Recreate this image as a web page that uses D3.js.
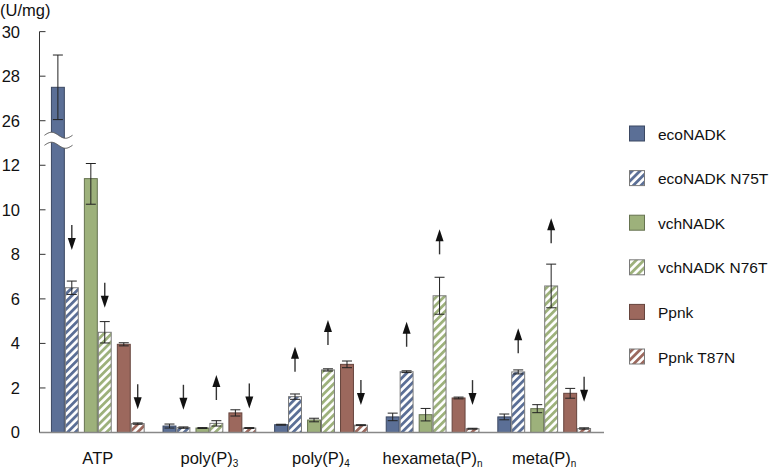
<!DOCTYPE html>
<html>
<head>
<meta charset="utf-8">
<script src="https://cdn.jsdelivr.net/npm/d3@7"></script>
<style>
  html, body { margin: 0; padding: 0; background: #fff; }
  svg { display: block; font-family: "Liberation Sans", Arial, sans-serif; }
</style>
</head>
<body>
<svg id="chart" width="776" height="470"></svg>
<script>
// ---- data ----
const groups = ["ATP", "poly(P)3", "poly(P)4", "hexameta(P)n", "meta(P)n"];
const groupBase = ["ATP", "poly(P)", "poly(P)", "hexameta(P)", "meta(P)"];
const groupSub = ["", "3", "4", "n", "n"];
const series = ["ecoNADK", "ecoNADK N75T", "vchNADK", "vchNADK N76T", "Ppnk", "Ppnk T87N"];
const seriesColor = ["#5b6f96", "#5b6f96", "#9db17b", "#9db17b", "#9c685d", "#9c685d"];
const seriesHatched = [false, true, false, true, false, true];
// values per group (ATP, poly(P)3, poly(P)4, hexameta(P)n, meta(P)n)
const ecoNADK      = [27.5, 0.29, 0.35, 0.70, 0.70];
const ecoNADK_N75T = [6.5, 0.22, 1.61, 2.73, 2.72];
const vchNADK      = [11.4, 0.20, 0.56, 0.80, 1.07];
const vchNADK_N76T = [4.5, 0.41, 2.81, 6.14, 6.58];
const Ppnk         = [3.96, 0.88, 3.06, 1.55, 1.76];
const Ppnk_T87N    = [0.40, 0.20, 0.33, 0.17, 0.18];
// standard errors
const ecoNADK_err      = [1.45, 0.09, 0.02, 0.17, 0.13];
const ecoNADK_N75T_err = [0.30, 0.03, 0.12, 0.04, 0.09];
const vchNADK_err      = [1.15, 0.02, 0.08, 0.28, 0.18];
const vchNADK_N76T_err = [0.48, 0.12, 0.05, 0.83, 0.98];
const Ppnk_err         = [0.07, 0.14, 0.15, 0.04, 0.22];
const Ppnk_T87N_err    = [0.03, 0.02, 0.02, 0.02, 0.03];
const values = [ecoNADK, ecoNADK_N75T, vchNADK, vchNADK_N76T, Ppnk, Ppnk_T87N];
const errors = [ecoNADK_err, ecoNADK_N75T_err, vchNADK_err, vchNADK_N76T_err, Ppnk_err, Ppnk_T87N_err];
// y axis ticks (broken axis between 12 and 26)
const yTicks = [0, 2, 4, 6, 8, 10, 12, 26, 28, 30];
// change arrows: group index, series index, direction, lower end value
const arrowGroup  = [0, 0, 0, 1, 1, 1, 2, 2, 2, 3, 3, 3, 4, 4, 4];
const arrowSeries = [1, 3, 5, 1, 3, 5, 1, 3, 5, 1, 3, 5, 1, 3, 5];
const arrowDir    = ["down", "down", "down", "down", "up", "down", "up", "up", "down", "up", "up", "down", "up", "up", "down"];
const arrowLow    = [8.2, 5.6, 1.04, 1.02, 1.46, 1.08, 2.73, 3.93, 1.23, 3.85, 8.0, 1.23, 3.56, 8.5, 1.38];

// ---- layout ----
const svg = d3.select("#chart");
const axisX = 39.5, baseY = 432.5, unit = 22.27;

const y = d3.scaleLinear()
  .domain([0, 12, 26, 30])
  .range([baseY, baseY - 12 * unit, baseY - 14 * unit, baseY - 18 * unit]);

const x0 = d3.scaleBand().domain(groups).range([42, 600]).paddingInner(0.16).paddingOuter(0.08);
const pairs = ["eco", "vch", "ppnk"];
const xPair = d3.scaleBand().domain(pairs).range([0, x0.bandwidth()]).paddingInner(0.155);
const xSub = d3.scaleBand().domain([0, 1]).range([0, xPair.bandwidth()]);
function barX(gi, si) {
  return x0(groups[gi]) + xPair(pairs[Math.floor(si / 2)]) + xSub(si % 2);
}
const bw = xSub.bandwidth();

// ---- patterns ----
const defs = svg.append("defs");
series.forEach((s, i) => {
  if (!seriesHatched[i]) return;
  const p = defs.append("pattern")
    .attr("id", "hatch" + i)
    .attr("patternUnits", "userSpaceOnUse")
    .attr("width", 5.5).attr("height", 5.5)
    .attr("patternTransform", "rotate(45)");
  p.append("rect").attr("width", 5.5).attr("height", 5.5).attr("fill", "#fff");
  p.append("line").attr("x1", 1.4).attr("y1", 0).attr("x2", 1.4).attr("y2", 5.5)
    .attr("stroke", seriesColor[i]).attr("stroke-width", 2.8);
});
function fillOf(i) { return seriesHatched[i] ? `url(#hatch${i})` : seriesColor[i]; }
function strokeOf(i) { return seriesHatched[i] ? "#7a7a7a" : d3.color(seriesColor[i]).darker(1.2); }

// ---- bars ----
const barData = [];
groups.forEach((g, gi) => series.forEach((s, si) => barData.push({ gi, si, v: values[si][gi], e: errors[si][gi] })));

svg.append("g").selectAll("rect").data(barData).join("rect")
  .attr("x", d => barX(d.gi, d.si) + 0.5)
  .attr("y", d => y(d.v))
  .attr("width", bw - 1)
  .attr("height", d => baseY - y(d.v))
  .attr("fill", d => fillOf(d.si))
  .attr("stroke", d => strokeOf(d.si))
  .attr("stroke-width", 1);

// ---- axis break (on the ATP ecoNADK bar) ----
const breakTop = y(12) - 30, breakBot = breakTop + 10;
function wave(yc, x1, x2) {
  return d3.range(0, 41).map(k => {
    const xx = x1 + (x2 - x1) * k / 40;
    return [xx, yc - 3 * Math.sin((k / 40) * 2 * Math.PI)];
  });
}
const bx1 = axisX + 5, bx2 = axisX + 33;
const topW = wave(breakTop, bx1, bx2), botW = wave(breakBot, bx1, bx2);
svg.append("path")
  .attr("d", d3.line()(topW.concat(botW.slice().reverse())) + "Z")
  .attr("fill", "#fff").attr("stroke", "none");
svg.append("path").attr("d", d3.line()(topW)).attr("fill", "none").attr("stroke", "#555").attr("stroke-width", 1);
svg.append("path").attr("d", d3.line()(botW)).attr("fill", "none").attr("stroke", "#555").attr("stroke-width", 1);

// ---- error bars ----
const eg = svg.append("g").attr("stroke", "#222").attr("stroke-width", 1).attr("fill", "none");
barData.forEach(d => {
  const cx = barX(d.gi, d.si) + bw / 2;
  const t = y(d.v + d.e), b = y(Math.max(0, d.v - d.e));
  eg.append("line").attr("x1", cx).attr("x2", cx).attr("y1", t).attr("y2", b);
  eg.append("line").attr("x1", cx - 5).attr("x2", cx + 5).attr("y1", t).attr("y2", t);
  eg.append("line").attr("x1", cx - 5).attr("x2", cx + 5).attr("y1", b).attr("y2", b);
});

// ---- arrows ----
const ag = svg.append("g");
arrowGroup.forEach((gi, k) => {
  const si = arrowSeries[k];
  const cx = barX(gi, si) + bw / 2;
  const low = y(arrowLow[k]), high = low - 25;
  if (arrowDir[k] === "down") {
    ag.append("line").attr("x1", cx).attr("x2", cx).attr("y1", high).attr("y2", low - 9)
      .attr("stroke", "#333").attr("stroke-width", 1.4);
    ag.append("path").attr("d", `M${cx - 4},${low - 12} L${cx + 4},${low - 12} L${cx},${low} Z`).attr("fill", "#111");
  } else {
    ag.append("line").attr("x1", cx).attr("x2", cx).attr("y1", high + 9).attr("y2", low)
      .attr("stroke", "#333").attr("stroke-width", 1.4);
    ag.append("path").attr("d", `M${cx - 4},${high + 12} L${cx + 4},${high + 12} L${cx},${high} Z`).attr("fill", "#111");
  }
});

// ---- y axis ----
const yAxis = svg.append("g");
yAxis.append("line").attr("x1", axisX).attr("x2", axisX).attr("y1", y(30)).attr("y2", baseY)
  .attr("stroke", "#333").attr("stroke-width", 1);
yTicks.forEach(t => {
  yAxis.append("line").attr("x1", axisX).attr("x2", axisX + 6).attr("y1", y(t)).attr("y2", y(t))
    .attr("stroke", "#333").attr("stroke-width", 1);
  yAxis.append("text").attr("x", 20).attr("y", y(t)).attr("dy", "0.36em")
    .attr("text-anchor", "end").attr("font-size", 16.5).attr("fill", "#111").text(t);
});
svg.append("text").attr("x", 0).attr("y", 16).attr("font-size", 16.5).attr("fill", "#111").text("(U/mg)");

// baseline
svg.append("line").attr("x1", axisX).attr("x2", 604).attr("y1", baseY).attr("y2", baseY)
  .attr("stroke", "#888").attr("stroke-width", 1.5);

// ---- x labels ----
groups.forEach((g, gi) => {
  const t = svg.append("text")
    .attr("x", x0(g) + x0.bandwidth() / 2)
    .attr("y", 464)
    .attr("text-anchor", "middle")
    .attr("font-size", 16.5).attr("fill", "#111");
  t.append("tspan").text(groupBase[gi]);
  if (groupSub[gi]) t.append("tspan").attr("font-size", 10).attr("dy", 3).text(groupSub[gi]);
});

// ---- legend ----
const lg = svg.append("g");
series.forEach((s, i) => {
  const cy = 134 + i * 44.6;
  lg.append("rect").attr("x", 629.5).attr("y", cy - 8).attr("width", 15).attr("height", 15)
    .attr("fill", fillOf(i)).attr("stroke", strokeOf(i)).attr("stroke-width", 1);
  lg.append("text").attr("x", 658).attr("y", cy).attr("dy", "0.36em")
    .attr("font-size", 15.5).attr("fill", "#111").text(s);
});
</script>
</body>
</html>
